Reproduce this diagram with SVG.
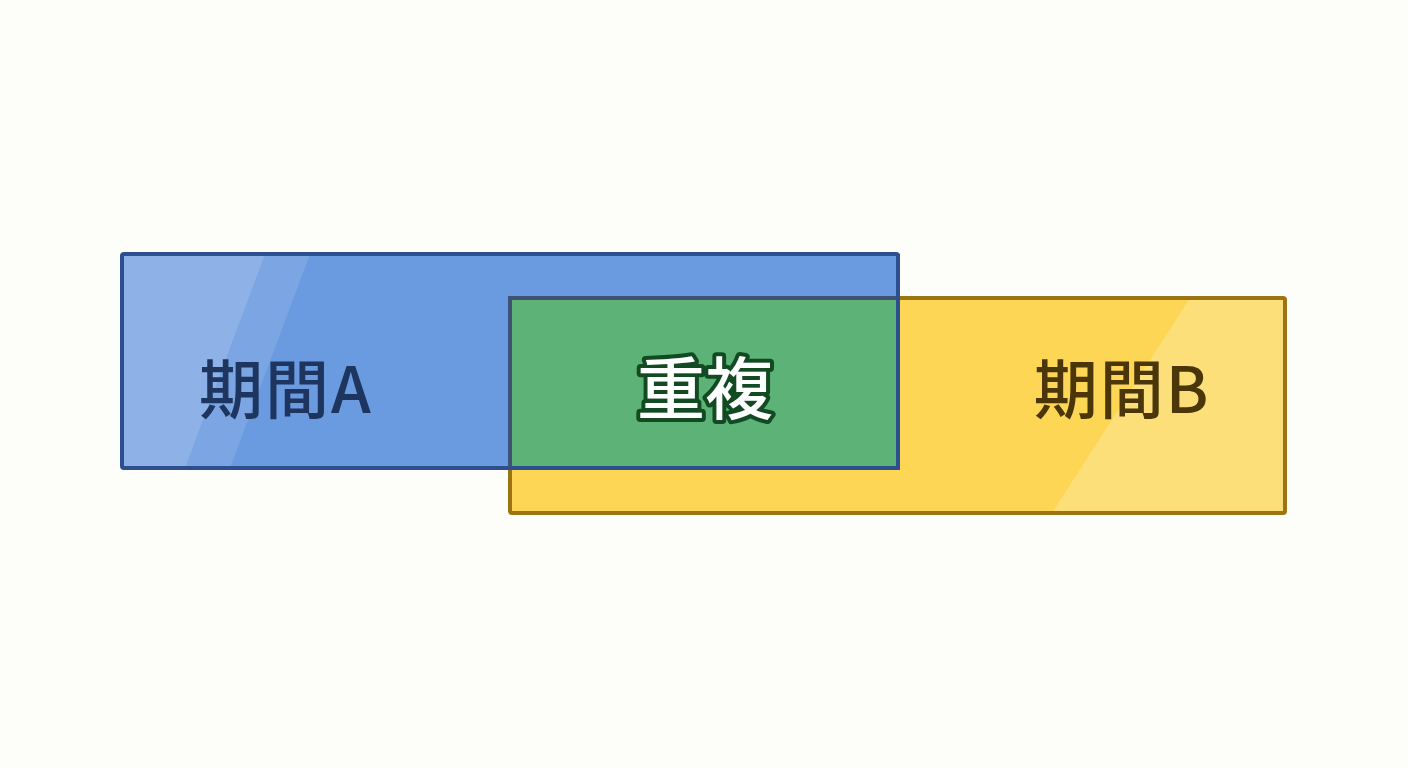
<svg xmlns="http://www.w3.org/2000/svg" width="1408" height="768" viewBox="0 0 1408 768">
<style>
.lbl{font-family:"Noto Sans CJK JP","Noto Sans",sans-serif;font-weight:500;text-anchor:middle;dominant-baseline:central}
</style>
<defs>
<clipPath id="clipA"><rect x="122" y="254" width="776" height="214"/></clipPath>
<clipPath id="clipB"><rect x="510" y="298" width="775" height="215"/></clipPath>
</defs>
<rect width="1408" height="768" fill="#fdfdfa"/>
<g id="periodB">
<rect x="510" y="298" width="775" height="215" fill="#fdd655"/>
<g clip-path="url(#clipB)">
<polygon points="1190,298 1290,298 1290,513 1052,513" fill="#ffffff" opacity="0.22"/>
</g>
<rect x="510" y="298" width="775" height="215" fill="none" stroke="#9a7512" stroke-width="4" rx="2"/>
<text class="lbl" x="1122" y="385" font-size="64" letter-spacing="2" fill="#4a3608">期間B</text>
</g>
<g id="periodA">
<rect x="122" y="254" width="776" height="214" fill="#6a9ae0"/>
<g clip-path="url(#clipA)">
<polygon points="118,254 310,254 230,468 118,468" fill="#ffffff" opacity="0.12"/>
<polygon points="118,254 265,254 185,468 118,468" fill="#ffffff" opacity="0.14"/>
</g>
<rect x="122" y="254" width="776" height="214" fill="none" stroke="#2e4f8e" stroke-width="4" rx="2"/>
<text class="lbl" x="286" y="385" font-size="64" letter-spacing="2" fill="#1e3560">期間A</text>
</g>
<g id="overlap">
<rect x="510" y="298" width="388" height="170" fill="#5cb277"/>
<path d="M510,468 L510,298 L898,298" fill="none" stroke="#3f5276" stroke-width="4"/>
<path d="M898,254 L898,468 L510,468" fill="none" stroke="#2e4f8e" stroke-width="4"/>
<text class="lbl" x="705" y="384" font-size="68" fill="#ffffff" stroke="#124a22" stroke-width="8" stroke-linejoin="round" paint-order="stroke">重複</text>
</g>
<g id="connectors"/>
</svg>
